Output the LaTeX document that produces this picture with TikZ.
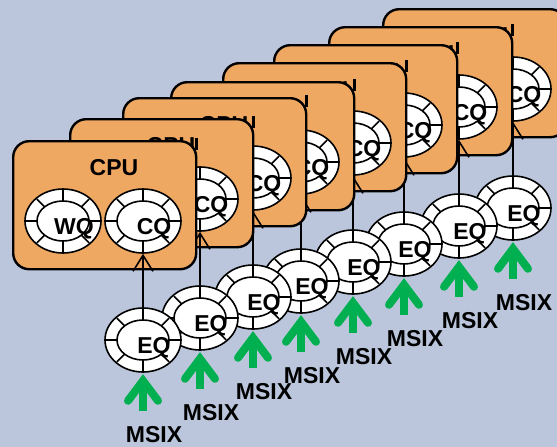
\documentclass[tikz,border=0pt]{standalone}
\usepackage{fontspec}
\setmainfont{Liberation Sans}
\usetikzlibrary{calc,arrows.meta,shapes.geometric}
\definecolor{backblue}{RGB}{187,198,220}
\definecolor{cpuorange}{RGB}{239,168,98}
\definecolor{msixgreen}{RGB}{0,176,80}
% one queue ring: name, centre, label
\newcommand{\queue}[3]{%
	\node[ring] (#1) at (#2) {};
	\draw[ringline] (#1) ellipse [x radius=26, y radius=20];
	\foreach \a in {0,45,...,315}
		\draw[ringline] ($(#1)+(\a:26 and 20)$) -- ($(#1)+(\a:37 and 31)$);
	\node[tag] (#1-t) at ($(#1)+(11,8)$) {#3};
}
\begin{document}
\begin{tikzpicture}[x=1pt, y=-1pt,
				cpu/.style={rectangle, draw, fill=cpuorange, line width=2.4pt, rounded corners=16pt, minimum width=183pt, minimum height=128pt, anchor=north west, inner sep=0pt},
				ring/.style={ellipse, draw, fill=white, line width=1.6pt, minimum width=76pt, minimum height=64pt, inner sep=0pt},
				ringline/.style={line width=1.6pt},
				tag/.style={inner sep=0pt, font=\bfseries\fontsize{23pt}{27pt}\selectfont},
				feed/.style={line width=1.6pt, -{Straight Barb[length=16pt, width=20pt]}},
				msix/.style={draw=msixgreen, line width=8pt, line cap=round, line join=miter},
				shaft/.style={draw=msixgreen, line width=8pt}
				]
				\clip (0,0) rectangle (557,447);
				\fill[backblue] (0,0) rectangle (557,447);
				% back to front
				\foreach \x/\y/\i in {382/8/8, 328/26/7, 273/44/6, 222/62/5, 170/81/4, 122/97/3, 69/118/2, 12/140/1} {
					\node[cpu] (cpu\i) at (\x,\y) {};
					\draw[line width=2.4pt] ($(cpu\i.north east)+(-1,-2)$) -- ++(0,12);
					\node[tag] (cpulabel\i) at (\x+102,\y+28) {CPU};
					\queue{wq\i}{\x+51,\y+81}{WQ}
					\queue{cq\i}{\x+131,\y+81}{CQ}
					\queue{eq\i}{\x+131,\y+200}{EQ}
					\draw[feed] (eq\i.north) -- (cq\i.south);
					\coordinate (src\i) at ($(eq\i.south)+(0,38)$);
					\draw[shaft] (src\i) -- ($(eq\i.south)+(0,8)$);
					\draw[msix] ($(eq\i.south)+(-15,28)$) -- ($(eq\i.south)+(0,8)$) -- ($(eq\i.south)+(15,28)$);
					\node[tag] (msix\i) at ($(eq\i.south)+(11,62)$) {MSIX};
				}
\end{tikzpicture}
\end{document}
